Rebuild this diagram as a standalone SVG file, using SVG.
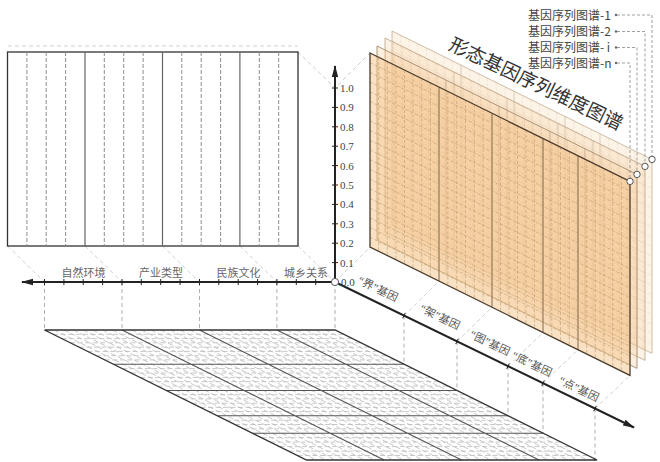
<svg xmlns="http://www.w3.org/2000/svg" width="660" height="462" viewBox="0 0 660 462">
<defs>
<style>
.cn{font-family:"Noto Sans CJK SC","Noto Sans CJK TC",sans-serif;}
.q{font-family:"Liberation Serif",serif;}
.num{font-family:"Liberation Serif",serif;font-size:11px;fill:#444;}
.ax{stroke:#222;stroke-width:2;fill:none;}
.tick{stroke:#222;stroke-width:1;fill:none;}
.proj{stroke:#c4c4c4;stroke-width:0.8;stroke-dasharray:4 3;fill:none;}
.drop{stroke:#9a9a9a;stroke-width:0.8;stroke-dasharray:4 3;fill:none;}
.lpsolid{stroke:#666;stroke-width:1.2;fill:none;}
.lpdash{stroke:#8e8e8e;stroke-width:1;stroke-dasharray:4 2;fill:none;}
.fsolid{stroke:#555;stroke-width:1.1;fill:none;}
.fdash{stroke:#b5b5b5;stroke-width:0.75;stroke-dasharray:5 2.5;fill:none;}
.psolid{stroke:#6e5436;stroke-width:1;fill:none;}
.pdash{stroke:#b89668;stroke-width:0.65;stroke-dasharray:3 2;fill:none;}
.lead{stroke:#888;stroke-width:0.8;stroke-dasharray:3 2;fill:none;}
.ring{fill:#fff;stroke:#555;stroke-width:1;}
.albl{font-size:11px;fill:#666;text-anchor:middle;}
.dlbl{font-size:11px;fill:#555;text-anchor:middle;}
.mlbl{font-size:12px;fill:#444;}
</style>
<marker id="arr" markerUnits="userSpaceOnUse" markerWidth="12" markerHeight="8" refX="11" refY="4" orient="auto"><path d="M0,0.8 L12,4 L0,7.2 Z" fill="#222"/></marker>
<path id="pshape" d="M370,53 L630,181.4 L630,375.4 L370,247 Z"/>
<g id="pgrid">
<path class="pdash" d="M378.6,57.2v194 M387.3,61.5v194 M395.9,65.8v194 M404.5,70v194 M413.1,74.3v194 M421.8,78.6v194 M430.4,82.8v194 M447.8,91.4v194 M456.7,95.8v194 M465.5,100.2v194 M474.3,104.5v194 M483.2,108.9v194 M500.5,117.5v194 M509,121.7v194 M517.5,125.9v194 M526,130.1v194 M534.5,134.3v194 M551.8,142.8v194 M560.5,147.1v194 M569.3,151.5v194 M586.7,160v194 M595.3,164.3v194 M604,168.6v194 M612.7,172.9v194 M621.3,177.1v194"/>
<path class="psolid" d="M439,87.1v194 M492,113.3v194 M543,138.5v194 M578,155.8v194"/>
<path class="pdash" d="M370,62.7l260,128.4 M370,72.4l260,128.4 M370,82.1l260,128.4 M370,91.8l260,128.4 M370,101.5l260,128.4 M370,111.2l260,128.4 M370,120.9l260,128.4 M370,130.6l260,128.4 M370,140.3l260,128.4 M370,150l260,128.4 M370,159.7l260,128.4 M370,169.4l260,128.4 M370,179.1l260,128.4 M370,188.8l260,128.4 M370,198.5l260,128.4 M370,208.2l260,128.4 M370,217.9l260,128.4 M370,227.6l260,128.4 M370,237.3l260,128.4"/>
</g>
</defs>
<rect width="660" height="462" fill="#fff"/>

<g id="connectors">
<path class="proj" d="M8,46 H298 M7.5,246 L44.5,282 M85,246 L122,282 M162.5,246 L199.5,282 M239.9,246 L276.9,282 M298,246 L335,282 M298,52 L335,88 L370,53 M335,282 L370,247 M404,315.6 L439,281.1 M457,341.4 L492,307.3 M508,366.2 L543,332.5 M543,383.2 L578,349.8 M595,408.5 L630,375.5"/>
<path class="drop" d="M44.5,282 V330 M122,282 V330 M199.5,282 V330 M276.9,282 V330 M335,282 V330 M404,315.6 V364.2 M457,341.4 V390.5 M508,366.2 V415.8 M543,383.2 V433.2 M595,408.5 V460"/>
</g>

<g id="left-panel">
<rect x="7.5" y="52" width="290.5" height="194" fill="#fff" stroke="#333" stroke-width="1.3"/>
<path class="lpdash" d="M26.9,52V246 M46.2,52V246 M65.6,52V246 M104.3,52V246 M123.7,52V246 M143.1,52V246 M181.8,52V246 M201.2,52V246 M220.6,52V246 M259.3,52V246 M278.7,52V246"/>
<path class="lpsolid" d="M85,52V246 M162.5,52V246 M239.9,52V246"/>
</g>

<g id="floor-grid">
<path d="M44.5,330 H335 L597.1,460 H306.6 Z" fill="#fff"/>
<path class="fdash" d="M54.2,330L316.3,460 M63.9,330L326,460 M73.6,330L335.7,460 M83.2,330L345.3,460 M92.9,330L355,460 M102.6,330L364.7,460 M112.3,330L374.4,460 M131.7,330L393.8,460 M141.4,330L403.5,460 M151,330L413.1,460 M160.7,330L422.8,460 M170.4,330L432.5,460 M180.1,330L442.2,460 M189.8,330L451.9,460 M209.2,330L471.3,460 M218.8,330L480.9,460 M228.5,330L490.6,460 M238.2,330L500.3,460 M247.9,330L510,460 M257.6,330L519.7,460 M267.3,330L529.4,460 M286.6,330L548.7,460 M296.3,330L558.4,460 M306,330L568.1,460 M315.7,330L577.8,460 M325.4,330L587.5,460"/>
<path class="fdash" d="M53.2,334.3H343.7 M61.8,338.6H352.3 M70.3,342.8H360.8 M79,347.1H369.5 M87.6,351.4H378.1 M96.3,355.7H386.8 M104.8,359.9H395.3 M122.3,368.6H412.8 M131.2,373H421.7 M140.1,377.4H430.6 M148.7,381.7H439.2 M157.6,386.1H448.1 M174.9,394.7H465.4 M183.4,398.9H473.9 M192.1,403.2H482.6 M200.5,407.4H491 M209,411.6H499.5 M226.3,420.2H516.8 M235,424.5H525.5 M243.9,428.9H534.4 M261.6,437.7H552.1 M270.5,442.1H561 M279.6,446.6H570.1 M288.6,451.1H579.1 M297.5,455.5H588"/>
<path class="fsolid" d="M122,330L384.1,460 M199.5,330L461.6,460 M276.9,330L539,460 M113.4,364.2H403.9 M166.5,390.5H457 M217.5,415.8H508 M252.6,433.2H543.1"/>
<path d="M44.5,330 H335 L597.1,460 H306.6 Z" fill="none" stroke="#333" stroke-width="1.3"/>
</g>

<g id="map-1" transform="translate(22,-22)">
<use href="#pshape" fill="#f4c68c" fill-opacity="0.2"/>
<use href="#pgrid" opacity="0.25"/>
<use href="#pshape" fill="none" stroke="#c2ad92" stroke-width="0.8"/>
</g>
<g id="map-2" transform="translate(15,-15)">
<use href="#pshape" fill="#f4c68c" fill-opacity="0.22"/>
<use href="#pgrid" opacity="0.25"/>
<use href="#pshape" fill="none" stroke="#b9a183" stroke-width="0.8"/>
</g>
<g id="map-i" transform="translate(7,-7)">
<use href="#pshape" fill="#f4c68c" fill-opacity="0.28"/>
<use href="#pgrid" opacity="0.3"/>
<use href="#pshape" fill="none" stroke="#a38a6a" stroke-width="0.9"/>
</g>
<g id="map-n">
<use href="#pshape" fill="#f3c489" fill-opacity="0.5"/>
<use href="#pgrid" opacity="0.85"/>
<use href="#pshape" fill="none" stroke="#4a3b2c" stroke-width="1.3"/>
</g>

<g id="axes">
<line class="ax" x1="335" y1="282" x2="22" y2="282" marker-end="url(#arr)"/>
<line class="ax" x1="335" y1="282" x2="335" y2="66" marker-end="url(#arr)"/>
<line class="ax" x1="335" y1="282" x2="634" y2="427.5" marker-end="url(#arr)"/>
<path class="tick" d="M44.5,279v6 M63.9,279v6 M83.2,279v6 M102.6,279v6 M122,279v6 M141.3,279v6 M160.7,279v6 M180.1,279v6 M199.5,279v6 M218.8,279v6 M238.2,279v6 M257.6,279v6 M276.9,279v6 M296.3,279v6 M315.7,279v6"/>
<path class="tick" d="M332,262.6h6 M332,243.2h6 M332,223.8h6 M332,204.4h6 M332,185h6 M332,165.6h6 M332,146.2h6 M332,126.8h6 M332,107.4h6 M332,88h6"/>
<path class="tick" d="M405.3,312.9l-2.6,5.4 M458.3,338.7l-2.6,5.4 M509.3,363.5l-2.6,5.4 M544.3,380.5l-2.6,5.4 M596.3,405.8l-2.6,5.4"/>
<circle class="ring" cx="335" cy="282" r="3.6"/>
</g>

<g id="axis-labels">
<text class="cn albl" x="83.5" y="277">自然环境</text>
<text class="cn albl" x="161" y="277">产业类型</text>
<text class="cn albl" x="238.5" y="277">民族文化</text>
<text class="cn albl" x="306" y="277">城乡关系</text>
<text class="num" x="341" y="286">0.0</text>
<text class="num" x="340" y="266.6">0.1</text>
<text class="num" x="340" y="247.2">0.2</text>
<text class="num" x="340" y="227.8">0.3</text>
<text class="num" x="340" y="208.4">0.4</text>
<text class="num" x="340" y="189">0.5</text>
<text class="num" x="340" y="169.6">0.6</text>
<text class="num" x="340" y="150.2">0.7</text>
<text class="num" x="340" y="130.8">0.8</text>
<text class="num" x="340" y="111.4">0.9</text>
<text class="num" x="340" y="92">1.0</text>
<text class="cn dlbl" transform="translate(378,289) rotate(26)" y="3.8"><tspan class="q">“</tspan>界<tspan class="q">”</tspan>基因</text>
<text class="cn dlbl" transform="translate(440,317) rotate(26)" y="3.8"><tspan class="q">“</tspan>架<tspan class="q">”</tspan>基因</text>
<text class="cn dlbl" transform="translate(490,343) rotate(26)" y="3.8"><tspan class="q">“</tspan>图<tspan class="q">”</tspan>基因</text>
<text class="cn dlbl" transform="translate(532,364) rotate(26)" y="3.8"><tspan class="q">“</tspan>底<tspan class="q">”</tspan>基因</text>
<text class="cn dlbl" transform="translate(579,389) rotate(26)" y="3.8"><tspan class="q">“</tspan>点<tspan class="q">”</tspan>基因</text>
</g>

<g id="title">
<text class="cn" transform="translate(536,84) rotate(25.5)" y="6.5" font-size="19" fill="#333" text-anchor="middle">形态基因序列维度图谱</text>
</g>

<g id="map-legend">
<path class="lead" d="M617,15 H652 V156.2 M617,31.5 H645 V163.2 M617,47.5 H637 V171.2 M617,63 H630 V178.2"/>
<circle cx="616" cy="15" r="1.2" fill="#666"/>
<circle cx="616" cy="31.5" r="1.2" fill="#666"/>
<circle cx="616" cy="47.5" r="1.2" fill="#666"/>
<circle cx="616" cy="63" r="1.2" fill="#666"/>
<text class="cn mlbl" x="528" y="19.5">基因序列图谱-1</text>
<text class="cn mlbl" x="528" y="36">基因序列图谱-2</text>
<text class="cn mlbl" x="528" y="52">基因序列图谱- i</text>
<text class="cn mlbl" x="528" y="67.5">基因序列图谱-n</text>
<circle class="ring" cx="652" cy="159.4" r="3.2"/>
<circle class="ring" cx="645" cy="166.4" r="3.2"/>
<circle class="ring" cx="637" cy="174.4" r="3.2"/>
<circle class="ring" cx="630" cy="181.4" r="3.2"/>
</g>
</svg>
